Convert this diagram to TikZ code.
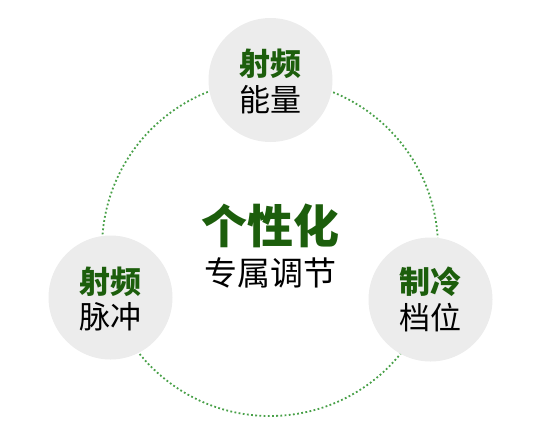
\documentclass[tikz,border=0pt]{standalone}
\usepackage{fontspec}
\newfontfamily\cjk{Noto Sans CJK SC}
\definecolor{dgreen}{HTML}{1C5E0C}
\definecolor{dotgreen}{HTML}{48A048}
\definecolor{cfill}{HTML}{ECECEC}
\tikzset{
  ring/.style={circle, draw=dotgreen, line width=1.8pt, dash pattern=on 1.8pt off 2.4pt, minimum size=336pt, inner sep=0pt},
  bubble/.style={circle, fill=cfill, minimum size=124pt, inner sep=0pt},
  hl/.style={font=\cjk\bfseries\fontsize{31}{31}\selectfont, text=dgreen, inner sep=0pt},
  sub/.style={font=\cjk\fontsize{31}{31}\selectfont, text=black, inner sep=0pt},
  bighl/.style={font=\cjk\bfseries\fontsize{46}{46}\selectfont, text=dgreen, inner sep=0pt},
  bigsub/.style={font=\cjk\fontsize{33}{33}\selectfont, text=black, inner sep=0pt}
}
\begin{document}
\begin{tikzpicture}[x=1pt,y=-1pt]
\useasboundingbox (0,0) rectangle (538,440);
\node[ring] (ring) at (270,248) {};
\node[bubble] (top) at (270.5,80) {};
\node[bubble] (left) at (110.5,297.5) {};
\node[bubble] (right) at (430.5,299.5) {};
\node[hl] (t1) at (270.5,64) {射频};
\node[sub] (t2) at (270.5,99.5) {能量};
\node[hl] (l1) at (110.5,281.5) {射频};
\node[sub] (l2) at (110.5,317) {脉冲};
\node[hl] (r1) at (430.5,282) {制冷};
\node[sub] (r2) at (430.5,317.5) {档位};
\node[bighl] (c1) at (270,226) {个性化};
\node[bigsub] (c2) at (270.5,272.5) {专属调节};
\end{tikzpicture}
\end{document}
